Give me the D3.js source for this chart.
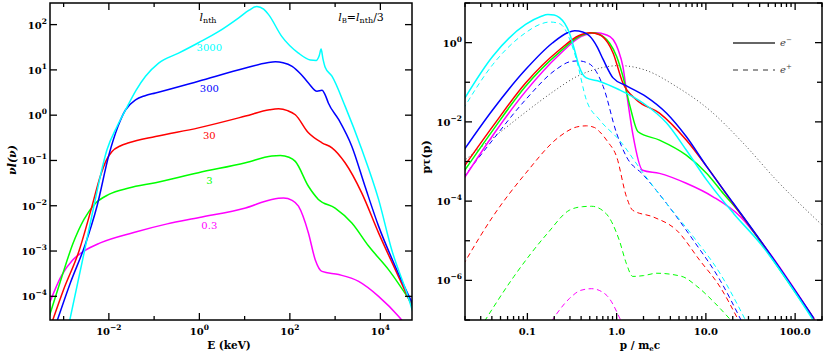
<!DOCTYPE html>
<html>
<head>
<meta charset="utf-8">
<script src="https://cdn.jsdelivr.net/npm/d3@7"></script>
<style>
body { margin: 0; background: #fff; }
text { font-family: "DejaVu Serif", serif; }
</style>
</head>
<body>
<svg id="chart" width="830" height="356"></svg>
<script>
// values, stored as [log10 x, log10 y]

// left panel: E (keV) vs nu l(nu), one curve per l_nth (l_B = l_nth/3)
const lnthLabels = ["3000", "300", "30", "3", "0.3"];
const lnthColors = ["#00ffff", "#0000ff", "#ff0000", "#00ff00", "#ff00ff"];

const sed3000 = [[-2.88,-4.6],[-2.55,-3.05],[-2.33,-2.0],[-2.04,-0.76],[-1.82,-0.25],[-1.63,0.12],[-1.4,0.55],[-1.19,0.86],[-0.9,1.15],[-0.46,1.37],[-0.02,1.6],[0.43,1.85],[0.87,2.15],[1.1,2.32],[1.27,2.4],[1.42,2.34],[1.53,2.22],[1.82,1.74],[2.19,1.37],[2.45,1.22],[2.58,1.21],[2.65,1.32],[2.69,1.46],[2.73,1.25],[2.78,1.06],[2.93,0.86],[3.22,0.2],[3.59,-0.76],[3.96,-1.86],[4.25,-2.97],[4.62,-4.03],[4.75,-4.45]];
const sed300 = [[-3.18,-4.65],[-2.85,-3.7],[-2.52,-2.85],[-2.26,-2.0],[-2.0,-0.88],[-1.8,-0.25],[-1.63,0.12],[-1.41,0.34],[-1.2,0.43],[-0.97,0.49],[-0.02,0.75],[1.02,1.04],[1.5,1.16],[1.68,1.18],[1.85,1.16],[2.05,1.08],[2.25,0.9],[2.41,0.71],[2.6,0.53],[2.71,0.55],[2.78,0.45],[2.85,0.27],[3.08,-0.1],[3.37,-0.69],[3.66,-1.57],[3.96,-2.45],[4.33,-3.34],[4.72,-4.18]];
const sed30 = [[-3.3,-4.7],[-3.0,-3.85],[-2.66,-3.0],[-2.37,-2.0],[-2.2,-1.38],[-2.05,-0.98],[-1.93,-0.8],[-1.75,-0.68],[-1.56,-0.61],[-0.97,-0.47],[-0.02,-0.28],[1.02,-0.02],[1.55,0.12],[1.75,0.14],[1.95,0.1],[2.12,0.01],[2.41,-0.39],[2.71,-0.61],[2.93,-0.72],[3.22,-1.05],[3.59,-1.72],[3.96,-2.6],[4.33,-3.41],[4.72,-4.26]];
const sed3 = [[-3.32,-4.45],[-3.05,-3.6],[-2.8,-2.85],[-2.55,-2.3],[-2.3,-1.95],[-2.0,-1.75],[-1.56,-1.61],[-0.97,-1.49],[-0.02,-1.27],[1.02,-1.05],[1.6,-0.9],[1.79,-0.89],[1.98,-0.93],[2.12,-1.02],[2.41,-1.57],[2.63,-1.86],[3.0,-2.05],[3.37,-2.38],[3.74,-2.89],[4.18,-3.41],[4.72,-4.2]];
const sed03 = [[-3.3,-4.12],[-3.05,-3.55],[-2.8,-3.2],[-2.55,-3.0],[-2.19,-2.82],[-1.45,-2.59],[-0.71,-2.4],[0.0,-2.26],[1.02,-2.05],[1.6,-1.86],[1.86,-1.83],[2.05,-1.88],[2.19,-2.01],[2.41,-2.6],[2.56,-3.19],[2.71,-3.45],[3.08,-3.52],[3.52,-3.67],[3.96,-4.0],[4.4,-4.44],[4.55,-4.62]];
const sedCurves = [sed3000, sed300, sed30, sed3, sed03];

// right panel: p / m_e c vs p tau(p); solid e-, dashed e+
const tauElec3000 = [[-1.72,-1.47],[-1.39,-0.35],[-1.02,0.46],[-0.85,0.66],[-0.77,0.71],[-0.7,0.7],[-0.64,0.63],[-0.58,0.48],[-0.53,0.25],[-0.47,-0.2],[-0.42,-0.6],[-0.34,-0.89],[-0.19,-0.98],[0.03,-1.19],[0.3,-1.53],[0.56,-2.03],[0.78,-2.71],[1.01,-3.47],[1.31,-4.31],[1.61,-5.07],[2.21,-7.03]];
const tauElec300 = [[-1.72,-2.74],[-1.39,-1.7],[-1.02,-0.68],[-0.72,-0.01],[-0.55,0.25],[-0.47,0.3],[-0.38,0.27],[-0.3,0.16],[-0.22,-0.1],[-0.15,-0.43],[-0.04,-0.89],[0.11,-1.09],[0.33,-1.36],[0.56,-1.78],[0.78,-2.37],[1.01,-3.13],[1.31,-4.06],[1.61,-4.99],[2.21,-6.96]];
const tauElec30 = [[-1.72,-3.16],[-1.39,-2.12],[-1.02,-1.02],[-0.64,-0.18],[-0.42,0.18],[-0.3,0.25],[-0.19,0.2],[-0.1,0.0],[-0.04,-0.26],[0.07,-1.02],[0.22,-1.44],[0.48,-1.78],[0.78,-2.46],[1.01,-3.13],[1.31,-4.08],[1.61,-5.0],[2.21,-6.97]];
const tauElec3 = [[-1.72,-3.28],[-1.39,-2.22],[-1.02,-1.1],[-0.64,-0.24],[-0.4,0.18],[-0.27,0.25],[-0.15,0.15],[-0.08,-0.01],[0.0,-0.35],[0.07,-0.85],[0.15,-1.61],[0.24,-2.25],[0.48,-2.46],[0.78,-2.84],[1.01,-3.3],[1.2,-3.82],[1.4,-4.35],[1.61,-5.02],[2.21,-6.99]];
const tauElec03 = [[-1.72,-3.46],[-1.39,-2.35],[-1.02,-1.23],[-0.64,-0.3],[-0.4,0.15],[-0.23,0.25],[-0.12,0.2],[-0.04,0.08],[0.02,-0.2],[0.07,-0.6],[0.12,-1.4],[0.18,-2.29],[0.29,-3.22],[0.48,-3.3],[0.78,-3.55],[1.08,-3.89],[1.39,-4.4],[1.61,-5.0],[2.22,-7.0]];
const tauPos3000 = [[-1.72,-1.68],[-1.39,-0.56],[-1.02,0.25],[-0.85,0.47],[-0.75,0.52],[-0.67,0.5],[-0.6,0.41],[-0.52,0.05],[-0.45,-0.43],[-0.34,-1.44],[-0.19,-1.95],[0.03,-2.46],[0.3,-3.3],[0.56,-4.06],[0.86,-4.9],[1.16,-5.83],[1.45,-7.03]];
const tauPos300 = [[-1.72,-3.41],[-1.39,-2.46],[-1.02,-1.44],[-0.68,-0.68],[-0.52,-0.48],[-0.43,-0.46],[-0.34,-0.5],[-0.27,-0.6],[-0.15,-1.11],[0.0,-2.29],[0.11,-2.88],[0.3,-3.34],[0.56,-4.06],[0.86,-4.99],[1.16,-6.0],[1.4,-7.03]];
const tauPos30 = [[-1.72,-5.61],[-1.39,-4.4],[-1.02,-3.3],[-0.64,-2.37],[-0.45,-2.13],[-0.34,-2.1],[-0.25,-2.14],[-0.19,-2.25],[-0.1,-2.5],[0.0,-2.88],[0.11,-3.89],[0.18,-4.23],[0.41,-4.4],[0.67,-4.73],[0.93,-5.49],[1.16,-6.17],[1.37,-7.03]];
const tauPos3 = [[-1.48,-7.03],[-1.15,-5.9],[-0.77,-4.8],[-0.53,-4.23],[-0.38,-4.14],[-0.28,-4.13],[-0.12,-4.31],[0.03,-4.99],[0.11,-5.58],[0.18,-5.9],[0.3,-5.88],[0.45,-5.82],[0.73,-5.9],[0.9,-6.15],[1.1,-6.57],[1.29,-7.03]];
const tauPos03 = [[-0.73,-7.03],[-0.53,-6.46],[-0.4,-6.25],[-0.28,-6.21],[-0.12,-6.36],[0.05,-7.03]];
const tauThermal = [[-1.72,-3.0],[-1.3,-2.25],[-1.0,-1.72],[-0.7,-1.22],[-0.45,-0.86],[-0.2,-0.65],[0.03,-0.58],[0.33,-0.7],[0.67,-1.11],[1.04,-1.7],[1.42,-2.54],[1.79,-3.47],[2.3,-4.6]];
const tauElec = [tauElec3000, tauElec300, tauElec30, tauElec3, tauElec03];
const tauPos = [tauPos3000, tauPos300, tauPos30, tauPos3, tauPos03];

// tick values
const leftXExp = [-3, -2, -1, 0, 1, 2, 3, 4];
const leftYExp = [-4, -3, -2, -1, 0, 1, 2];
const rightXMajor = [0.1, 1, 10, 100];
const rightXLabels = ["0.1", "1.0", "10.0", "100.0"];
const rightYExp = [-7, -6, -5, -4, -3, -2, -1, 0, 1];

const svg = d3.select("#chart");
const L = {x0: 50, x1: 412, y0: 3, y1: 320};
const R = {x0: 465, x1: 822, y0: 3, y1: 320};

const xL = d3.scaleLog().domain([5e-4, 5e4]).range([L.x0, L.x1]);
const yL = d3.scaleLog().domain([3e-5, 3e2]).range([L.y1, L.y0]);
const xR = d3.scaleLog().domain([0.02, 200]).range([R.x0, R.x1]);
const yR = d3.scaleLog().domain([1e-7, 1e1]).range([R.y1, R.y0]);

const unlog = pts => pts.map(([a, b]) => [Math.pow(10, a), Math.pow(10, b)]);

function clip(id, b) {
    svg.append("clipPath").attr("id", id)
        .append("rect").attr("x", b.x0).attr("y", b.y0)
        .attr("width", b.x1 - b.x0).attr("height", b.y1 - b.y0);
}
clip("clipL", L);
clip("clipR", R);

function supText(sel, e) {
    sel.append("tspan").text("10");
    sel.append("tspan").attr("dy", -5).attr("font-size", 7.5)
        .text(e < 0 ? "\u2212" + (-e) : e);
}

function tick(g, x1, y1, x2, y2) {
    g.append("line").attr("x1", x1).attr("y1", y1).attr("x2", x2).attr("y2", y2)
        .attr("stroke", "#000").attr("stroke-width", 1.3);
}

/////// left panel
const gl = svg.append("g");
const lineL = d3.line().x(d => xL(d[0])).y(d => yL(d[1])).curve(d3.curveMonotoneX);
const curvesL = gl.append("g").attr("clip-path", "url(#clipL)");
[4, 3, 2, 1, 0].forEach(i => {
    curvesL.append("path")
        .attr("d", lineL(unlog(sedCurves[i])))
        .attr("fill", "none")
        .attr("stroke", lnthColors[i])
        .attr("stroke-width", 1.5);
});

function interpAt(pts, lx) {
    for (let k = 1; k < pts.length; k++) {
        if (pts[k][0] >= lx) {
            const t = (lx - pts[k - 1][0]) / (pts[k][0] - pts[k - 1][0]);
            return pts[k - 1][1] + t * (pts[k][1] - pts[k - 1][1]);
        }
    }
    return pts[pts.length - 1][1];
}

lnthLabels.forEach((lab, i) => {
    const lx = 0.22;
    gl.append("text")
        .attr("x", xL(Math.pow(10, lx)))
        .attr("y", yL(Math.pow(10, interpAt(sedCurves[i], lx))) + 14)
        .attr("text-anchor", "middle")
        .attr("font-family", "DejaVu Sans")
        .attr("font-size", 10)
        .attr("fill", lnthColors[i])
        .text(lab);
});

const hdr = gl.append("text").attr("x", 208).attr("y", 21).attr("text-anchor", "middle")
    .attr("font-size", 11);
hdr.append("tspan").attr("font-style", "italic").text("l");
hdr.append("tspan").attr("font-size", 8).attr("dy", 2).text("nth");

const lb = gl.append("text").attr("x", 361).attr("y", 21).attr("text-anchor", "middle")
    .attr("font-size", 11);
lb.append("tspan").attr("font-style", "italic").text("l");
lb.append("tspan").attr("font-size", 7).attr("dy", 2).text("B");
lb.append("tspan").attr("dy", -2).text("=");
lb.append("tspan").attr("font-style", "italic").text("l");
lb.append("tspan").attr("font-size", 8).attr("dy", 2).text("nth");
lb.append("tspan").attr("dy", -2).text("/3");

leftXExp.forEach(e => {
    const x = xL(Math.pow(10, e));
    const len = e % 2 === 0 ? 7 : 4;
    tick(gl, x, L.y1, x, L.y1 - len);
    tick(gl, x, L.y0, x, L.y0 + len);
    if (e % 2 === 0 && e > -3) {
        const t = gl.append("text").attr("x", x).attr("y", 335)
            .attr("text-anchor", "middle").attr("font-size", 10).attr("font-weight", "bold");
        supText(t, e);
    }
});
leftYExp.forEach(e => {
    const y = yL(Math.pow(10, e));
    tick(gl, L.x0, y, L.x0 + 7, y);
    tick(gl, L.x1, y, L.x1 - 7, y);
    const t = gl.append("text").attr("x", 47).attr("y", y + 4)
        .attr("text-anchor", "end").attr("font-size", 10).attr("font-weight", "bold");
    supText(t, e);
});
gl.append("rect").attr("x", L.x0).attr("y", L.y0)
    .attr("width", L.x1 - L.x0).attr("height", L.y1 - L.y0)
    .attr("fill", "none").attr("stroke", "#000").attr("stroke-width", 1.5);

gl.append("text").attr("x", 229).attr("y", 348.5).attr("text-anchor", "middle")
    .attr("font-size", 10.5).attr("font-weight", "bold").text("E (keV)");
gl.append("text").attr("transform", "translate(16,160) rotate(-90)")
    .attr("text-anchor", "middle").attr("font-size", 11)
    .attr("font-weight", "bold").attr("font-style", "italic").text("\u03bdl(\u03bd)");

/////// right panel
const gr = svg.append("g");
const lineR = d3.line().x(d => xR(d[0])).y(d => yR(d[1])).curve(d3.curveMonotoneX);
const curvesR = gr.append("g").attr("clip-path", "url(#clipR)");

curvesR.append("path")
    .attr("d", lineR(unlog(tauThermal)))
    .attr("fill", "none").attr("stroke", "#444").attr("stroke-width", 1)
    .attr("stroke-dasharray", "1,2.5");

[4, 3, 2, 1, 0].forEach(i => {
    curvesR.append("path")
        .attr("d", lineR(unlog(tauPos[i])))
        .attr("fill", "none").attr("stroke", lnthColors[i])
        .attr("stroke-width", 1).attr("stroke-dasharray", "5,3.5");
});
[4, 3, 2, 1, 0].forEach(i => {
    curvesR.append("path")
        .attr("d", lineR(unlog(tauElec[i])))
        .attr("fill", "none").attr("stroke", lnthColors[i])
        .attr("stroke-width", 1.5);
});

// legend
gr.append("line").attr("x1", 733).attr("x2", 775).attr("y1", 43).attr("y2", 43)
    .attr("stroke", "#333").attr("stroke-width", 1.5);
gr.append("line").attr("x1", 733).attr("x2", 775).attr("y1", 70).attr("y2", 70)
    .attr("stroke", "#333").attr("stroke-width", 1).attr("stroke-dasharray", "5,5");
[["e", "\u2212", 43], ["e", "+", 70]].forEach(([b, s, y]) => {
    const t = gr.append("text").attr("x", 780).attr("y", y + 3)
        .attr("font-size", 10).attr("font-style", "italic").attr("fill", "#444");
    t.append("tspan").text(b);
    t.append("tspan").attr("dy", -4).attr("font-size", 7).attr("font-style", "normal").text(s);
});

rightXMajor.forEach((v, i) => {
    const x = xR(v);
    tick(gr, x, R.y1, x, R.y1 - 7);
    tick(gr, x, R.y0, x, R.y0 + 7);
    gr.append("text").attr("x", x).attr("y", 335).attr("text-anchor", "middle")
        .attr("font-size", 10).attr("font-weight", "bold").text(rightXLabels[i]);
});
[0.01, 0.1, 1, 10, 100].forEach(d => {
    d3.range(2, 10).forEach(k => {
        const v = k * d;
        if (v < 0.02 || v > 200) return;
        const x = xR(v);
        tick(gr, x, R.y1, x, R.y1 - 4);
        tick(gr, x, R.y0, x, R.y0 + 4);
    });
});
rightYExp.forEach(e => {
    const y = yR(Math.pow(10, e));
    const major = e % 2 === 0;
    const len = major ? 7 : 5;
    tick(gr, R.x0, y, R.x0 + len, y);
    tick(gr, R.x1, y, R.x1 - len, y);
    if (major) {
        const t = gr.append("text").attr("x", 462).attr("y", y + 4)
            .attr("text-anchor", "end").attr("font-size", 10).attr("font-weight", "bold");
        supText(t, e);
    }
});
gr.append("rect").attr("x", R.x0).attr("y", R.y0)
    .attr("width", R.x1 - R.x0).attr("height", R.y1 - R.y0)
    .attr("fill", "none").attr("stroke", "#000").attr("stroke-width", 1.5);

const xt = gr.append("text").attr("x", 640).attr("y", 348.5).attr("text-anchor", "middle")
    .attr("font-size", 10.5).attr("font-weight", "bold");
xt.append("tspan").text("p / m");
xt.append("tspan").attr("font-size", 7).attr("dy", 2).text("e");
xt.append("tspan").attr("dy", -2).text("c");
gr.append("text").attr("transform", "translate(430,157) rotate(-90)")
    .attr("text-anchor", "middle").attr("font-size", 11).attr("font-weight", "bold")
    .text("p\u03c4(p)");
</script>
</body>
</html>
